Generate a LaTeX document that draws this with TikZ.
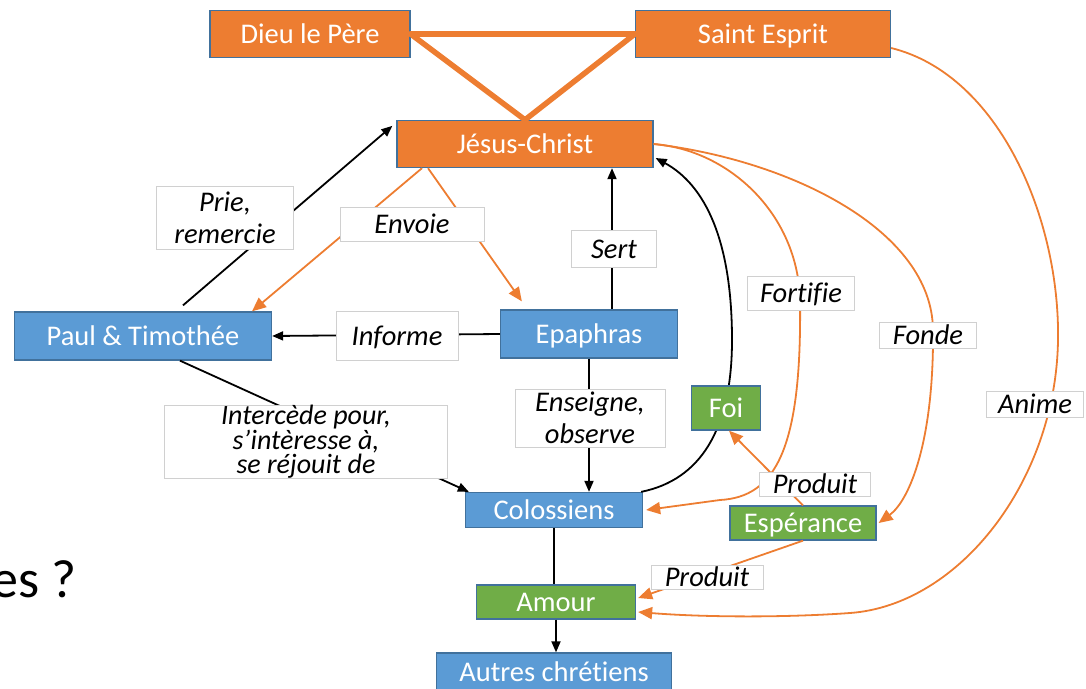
\documentclass[tikz,border=0pt]{standalone}
\usepackage{fontspec}
\setmainfont{Carlito}[Ligatures=NoCommon]
\usetikzlibrary{arrows.meta}
\definecolor{orng}{HTML}{ED7D31}
\definecolor{blu}{HTML}{5B9BD5}
\definecolor{grn}{HTML}{70AD47}
\definecolor{edgec}{HTML}{41719C}
\definecolor{lblgray}{HTML}{D0D0D0}
\tikzset{
 box/.style={draw=edgec, line width=1.3pt, text=white, inner sep=0pt, font=\fontsize{28.5}{32}\selectfont, align=center, text height=20pt, text depth=2pt},
 obox/.style={box, fill=orng},
 bbox/.style={box, fill=blu},
 gbox/.style={box, fill=grn},
 lbl/.style={draw=lblgray, line width=0.8pt, fill=white, inner sep=0pt, font=\fontsize{28.5}{32}\selectfont\itshape, align=center},
 lbl1/.style={lbl, text height=20pt, text depth=1pt},
 blk/.style={line width=1.8pt, -{Triangle[length=11pt,width=9pt]}},
 org/.style={draw=orng, line width=1.8pt, -{Triangle[length=14pt,width=12pt]}},
 trin/.style={draw=orng, line width=5.5pt, line cap=round},
}
\begin{document}
\begin{tikzpicture}[x=1pt,y=-1pt]
\useasboundingbox (0,0) rectangle (1086,688);
% main nodes
\node[obox, minimum width=200, minimum height=47] (dieu) at (310,34) {Dieu le Père};
\node[obox, minimum width=255, minimum height=47] (esprit) at (763,34) {Saint Esprit};
\node[obox, minimum width=256, minimum height=47] (jesus) at (525,144) {Jésus-Christ};
\node[bbox, minimum width=257, minimum height=48] (paul) at (143,336) {Paul \& Timothée};
\node[bbox, minimum width=177, minimum height=48] (epa) at (589,334) {Epaphras};
\node[bbox, minimum width=177, minimum height=35] (col) at (554,510) {Colossiens};
\node[gbox, minimum width=146, minimum height=34] (esp) at (803,523) {Espérance};
\node[gbox, minimum width=159, minimum height=34] (amour) at (556,602) {Amour};
\node[bbox, minimum width=235, minimum height=38] (autres) at (554,672) {Autres chrétiens};
\node[anchor=base east, font=\fontsize{54}{60}\selectfont, inner sep=0pt] (es) at (77,597) {es ?};
% trinity
\draw[trin] (dieu.east) -- (esprit.west);
\draw[trin] (dieu.east) -- (jesus.north);
\draw[trin] (esprit.west) -- (jesus.north);
% connectors
\draw[blk] ([xshift=40,yshift=6]paul.north) -- ([xshift=-4,yshift=-6]jesus.north west);
\draw[org] ([xshift=-103]jesus.south) -- ([xshift=109]paul.north);
\draw[org] ([xshift=-97]jesus.south) -- ([xshift=22,yshift=8]epa.north west);
\draw[blk] ([xshift=23]epa.north) -- ([xshift=87]jesus.south);
\draw[blk] (epa.west) -- (paul.east);
\draw[blk] ([xshift=37]paul.south) -- ([xshift=4]col.north west);
\draw[blk] (epa.south) -- (epa.south |- col.north);
\draw[line width=1.8pt] (col.south) -- (col.south |- amour.north);
\draw[blk] (amour.south) -- (amour.south |- autres.north);
\draw[blk] ([xshift=-2]col.north east) .. controls (700,480) and (732,430) .. (732,340) .. controls (732,240) and (705,185) .. ([xshift=2,yshift=-14]jesus.east);
\draw[org] (jesus.east) .. controls (730,150) and (798,215) .. (800,300) .. controls (802,450) and (775,497) .. (720,500) -- ([xshift=3]col.east);
\draw[org] (jesus.east) .. controls (790,160) and (932,230) .. (933,330) .. controls (934,440) and (910,500) .. ([xshift=2]esp.east);
\draw[org] ([yshift=-14]esprit.east) .. controls (1000,75) and (1060,220) .. (1058,340) .. controls (1056,480) and (960,605) .. (850,613) .. controls (780,618) and (700,617) .. ([xshift=2,yshift=-10]amour.east);
% Foi drawn over the black curve
\node[gbox, minimum width=69, minimum height=44] (foi) at (726,408) {Foi};
\draw[org] (esp.north) -- ([xshift=3]foi.south);
\draw[org] (esp.south) -- ([xshift=2,yshift=4]amour.east);
% labels
\node[lbl, minimum width=137, minimum height=63] (lprie) at (225,218) {Prie,\\remercie};
\node[lbl1, minimum width=144, minimum height=34] (lenv) at (412,224) {Envoie};
\node[lbl1, minimum width=85, minimum height=37] (lsert) at (614,249) {Sert};
\node[lbl1, minimum width=122, minimum height=49] (linf) at (397,336) {Informe};
\node[lbl1, minimum width=107, minimum height=34] (lfort) at (801,293) {Fortifie};
\node[lbl1, minimum width=97, minimum height=26] (lfonde) at (928,335) {Fonde};
\node[lbl1, minimum width=97, minimum height=26] (lanime) at (1035,404) {Anime};
\node[lbl, minimum width=150, minimum height=58] (lens) at (590,418) {Enseigne,\\observe};
\node[lbl, minimum width=283, minimum height=70, font=\fontsize{28}{22}\selectfont\itshape] (linter) at (306,442) {Intercède pour,\\s’intèresse à,\\se réjouit de};
\node[lbl1, minimum width=111, minimum height=24] (lprod1) at (815,484) {Produit};
\node[lbl1, minimum width=112, minimum height=24] (lprod2) at (707,577) {Produit};
\end{tikzpicture}
\end{document}
